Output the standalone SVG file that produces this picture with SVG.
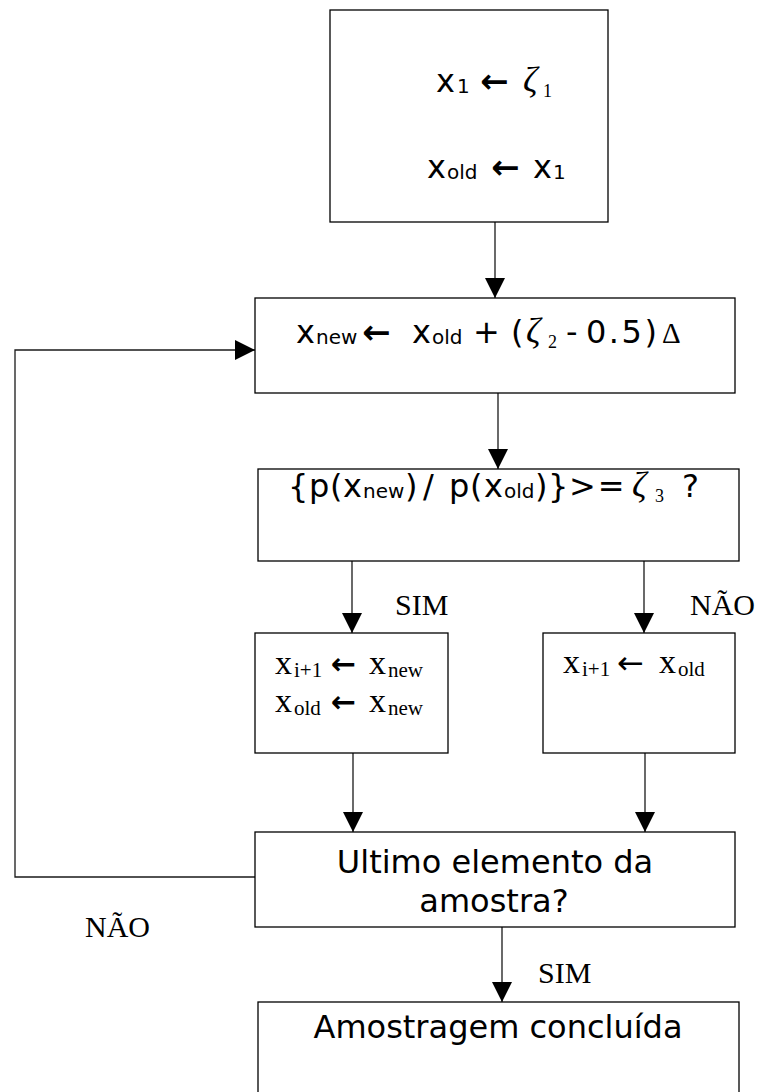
<svg xmlns="http://www.w3.org/2000/svg" width="760" height="1092" viewBox="0 0 760 1092">
<defs>
<style>
.box{fill:#fff;stroke:#000;stroke-width:1.3}
.ln{fill:none;stroke:#1a1a1a;stroke-width:1.3}
.s{font-family:"DejaVu Sans","Verdana",sans-serif;font-size:32px;fill:#000}
.ss{font-family:"DejaVu Sans","Verdana",sans-serif;font-size:20px}
.ar{font-family:"DejaVu Sans",sans-serif;font-weight:bold;font-size:34px;font-style:normal}
.g{font-family:"Liberation Serif","Times New Roman",serif;font-style:italic;font-size:36px}
.gs{font-family:"Liberation Serif","Times New Roman",serif;font-style:normal;font-size:18px}
.t{font-family:"Liberation Serif","Times New Roman",serif;font-size:30px;fill:#000}
.tx{font-family:"Liberation Serif","Times New Roman",serif;font-size:34px;fill:#000}
.ts{font-size:21px}
.ta{font-family:"DejaVu Sans",sans-serif;font-weight:bold;font-size:30px}
</style>
<marker id="ah" viewBox="0 0 20 20" markerUnits="userSpaceOnUse" markerWidth="20" markerHeight="20" refX="20" refY="10" orient="auto">
<path d="M0,0 L20,10 L0,20 z" fill="#000"/>
</marker>
</defs>
<rect width="760" height="1092" fill="#fff"/>

<g id="connectors">
<path class="ln" d="M495,222 V298" marker-end="url(#ah)"/>
<path class="ln" d="M498,393 V469" marker-end="url(#ah)"/>
<path class="ln" d="M352,561 V633" marker-end="url(#ah)"/>
<path class="ln" d="M644,561 V633" marker-end="url(#ah)"/>
<path class="ln" d="M353,753 V832" marker-end="url(#ah)"/>
<path class="ln" d="M645,753 V832" marker-end="url(#ah)"/>
<path class="ln" d="M502,927 V1002" marker-end="url(#ah)"/>
<path class="ln" d="M255,877 H15 V350 H255" marker-end="url(#ah)"/>
<text class="t" x="395" y="615">SIM</text>
<text class="t" x="690" y="615">NÃO</text>
<text class="t" x="85" y="937">NÃO</text>
<text class="t" x="538" y="983">SIM</text>
</g>

<g id="init">
<rect class="box" x="330" y="10" width="278" height="212"/>
<text class="s" x="436" y="92">x<tspan class="ss" x="457" y="93">1</tspan><tspan class="ar" x="480" y="93">←</tspan><tspan class="g" x="523" y="92">ζ</tspan><tspan class="gs" x="543" y="97">1</tspan></text>
<text class="s" x="427" y="178">x<tspan class="ss" x="447" y="179">old</tspan><tspan class="ar" x="491" y="179">←</tspan><tspan x="533" y="178">x</tspan><tspan class="ss" x="553" y="179">1</tspan></text>
</g>

<g id="propose">
<rect class="box" x="255" y="298" width="480" height="95"/>
<text class="s" x="296" y="343">x<tspan class="ss" x="316" y="344">new</tspan><tspan class="ar" x="362" y="344">←</tspan><tspan x="412" y="343">x</tspan><tspan class="ss" x="432" y="344">old</tspan><tspan x="473" y="343">+</tspan><tspan x="511" y="343">(</tspan><tspan class="g" x="526" y="343">ζ</tspan><tspan class="gs" x="548" y="348">2</tspan><tspan x="566" y="343">-</tspan><tspan x="586" y="343" letter-spacing="2.5">0.5)</tspan><tspan x="662" y="343" style="font-family:'Liberation Serif',serif;font-size:29px">Δ</tspan></text>
</g>

<g id="test">
<rect class="box" x="258" y="469" width="481" height="92"/>
<text class="s" x="288" y="497">{<tspan x="309">p</tspan><tspan x="330">(</tspan><tspan x="343">x</tspan><tspan class="ss" x="363" y="498">new</tspan><tspan x="405" y="497">)</tspan><tspan x="423">/</tspan><tspan x="449">p</tspan><tspan x="470">(</tspan><tspan x="484">x</tspan><tspan class="ss" x="504" y="498">old</tspan><tspan x="535" y="497">)</tspan><tspan x="548">}</tspan><tspan x="569" letter-spacing="2">&gt;=</tspan><tspan class="g" x="632">ζ</tspan><tspan class="gs" x="655" y="502">3</tspan><tspan x="682" y="497">?</tspan></text>
</g>

<g id="accept">
<rect class="box" x="255" y="633" width="193" height="120"/>
<text class="tx" x="275" y="674">x<tspan class="ts" x="294" y="677">i+1</tspan><tspan class="ta" x="331" y="674">←</tspan><tspan x="369" y="674">x</tspan><tspan class="ts" x="388" y="677">new</tspan></text>
<text class="tx" x="275" y="712">x<tspan class="ts" x="294" y="715">old</tspan><tspan class="ta" x="331" y="712">←</tspan><tspan x="369" y="712">x</tspan><tspan class="ts" x="388" y="715">new</tspan></text>
</g>

<g id="reject">
<rect class="box" x="543" y="633" width="192" height="120"/>
<text class="tx" x="563" y="673">x<tspan class="ts" x="582" y="676">i+1</tspan><tspan class="ta" x="617" y="674" style="font-weight:normal;font-size:32px">←</tspan><tspan x="659" y="673">x</tspan><tspan class="ts" x="678" y="676">old</tspan></text>
</g>

<g id="last">
<rect class="box" x="255" y="832" width="480" height="95"/>
<text class="s" x="495" y="873" text-anchor="middle">Ultimo elemento da</text>
<text class="s" x="494" y="912" text-anchor="middle">amostra?</text>
</g>

<g id="done">
<rect class="box" x="258" y="1002" width="481" height="100"/>
<text class="s" x="498" y="1038" text-anchor="middle">Amostragem concluída</text>
</g>
</svg>
